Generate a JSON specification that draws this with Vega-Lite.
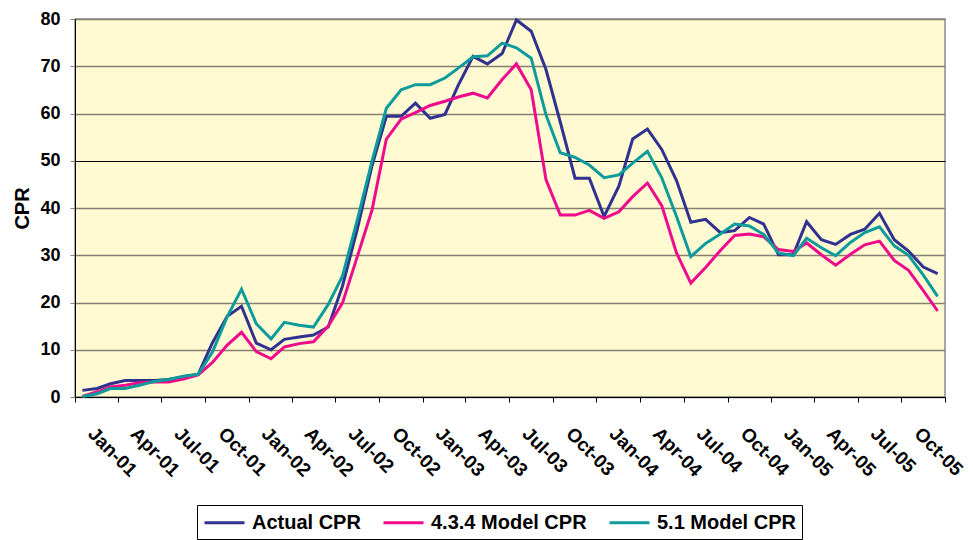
{
  "$schema": "https://vega.github.io/schema/vega-lite/v6.json",
  "width": 870,
  "height": 378,
  "autosize": {"type": "none"},
  "padding": {"left": 75, "top": 19, "right": 28, "bottom": 143},
  "background": "white",
  "config": {
    "font": "Liberation Sans",
    "view": {"fill": "#FFFAD2", "stroke": "#8C8C8C", "strokeWidth": 1.5}
  },
  "data": {
    "values": [
      {"month": "2001-01-01", "actual": 1.4, "v434": 0.1, "v51": 0.1},
      {"month": "2001-02-01", "actual": 1.8, "v434": 1.1, "v51": 0.7},
      {"month": "2001-03-01", "actual": 2.8, "v434": 2.1, "v51": 1.8},
      {"month": "2001-04-01", "actual": 3.5, "v434": 2.5, "v51": 1.8},
      {"month": "2001-05-01", "actual": 3.5, "v434": 3.0, "v51": 2.5},
      {"month": "2001-06-01", "actual": 3.5, "v434": 3.2, "v51": 3.3},
      {"month": "2001-07-01", "actual": 3.7, "v434": 3.2, "v51": 3.7},
      {"month": "2001-08-01", "actual": 4.3, "v434": 3.8, "v51": 4.4},
      {"month": "2001-09-01", "actual": 4.8, "v434": 4.7, "v51": 4.8},
      {"month": "2001-10-01", "actual": 11.5, "v434": 7.3, "v51": 9.5},
      {"month": "2001-11-01", "actual": 17.1, "v434": 11.0, "v51": 17.0},
      {"month": "2001-12-01", "actual": 19.2, "v434": 13.7, "v51": 22.8},
      {"month": "2002-01-01", "actual": 11.4, "v434": 9.6, "v51": 15.5},
      {"month": "2002-02-01", "actual": 10.0, "v434": 8.1, "v51": 12.3},
      {"month": "2002-03-01", "actual": 12.2, "v434": 10.6, "v51": 15.8},
      {"month": "2002-04-01", "actual": 12.7, "v434": 11.3, "v51": 15.2},
      {"month": "2002-05-01", "actual": 13.1, "v434": 11.7, "v51": 14.8},
      {"month": "2002-06-01", "actual": 14.8, "v434": 15.0, "v51": 19.6},
      {"month": "2002-07-01", "actual": 23.5, "v434": 19.9, "v51": 25.6},
      {"month": "2002-08-01", "actual": 35.5, "v434": 29.7, "v51": 37.5},
      {"month": "2002-09-01", "actual": 49.0, "v434": 39.6, "v51": 50.0},
      {"month": "2002-10-01", "actual": 59.4, "v434": 54.6, "v51": 61.1},
      {"month": "2002-11-01", "actual": 59.4, "v434": 58.8, "v51": 65.0},
      {"month": "2002-12-01", "actual": 62.2, "v434": 60.2, "v51": 66.1},
      {"month": "2003-01-01", "actual": 59.0, "v434": 61.7, "v51": 66.1},
      {"month": "2003-02-01", "actual": 59.8, "v434": 62.6, "v51": 67.5},
      {"month": "2003-03-01", "actual": 66.0, "v434": 63.5, "v51": 69.6},
      {"month": "2003-04-01", "actual": 72.1, "v434": 64.3, "v51": 72.0},
      {"month": "2003-05-01", "actual": 70.5, "v434": 63.3, "v51": 72.2},
      {"month": "2003-06-01", "actual": 72.7, "v434": 67.2, "v51": 74.9},
      {"month": "2003-07-01", "actual": 79.8, "v434": 70.5, "v51": 73.9},
      {"month": "2003-08-01", "actual": 77.4, "v434": 65.0, "v51": 71.7},
      {"month": "2003-09-01", "actual": 69.3, "v434": 46.0, "v51": 59.7},
      {"month": "2003-10-01", "actual": 58.2, "v434": 38.5, "v51": 51.7},
      {"month": "2003-11-01", "actual": 46.3, "v434": 38.5, "v51": 50.7},
      {"month": "2003-12-01", "actual": 46.3, "v434": 39.5, "v51": 49.1},
      {"month": "2004-01-01", "actual": 38.2, "v434": 37.8, "v51": 46.4},
      {"month": "2004-02-01", "actual": 44.6, "v434": 39.2, "v51": 47.0},
      {"month": "2004-03-01", "actual": 54.6, "v434": 42.4, "v51": 49.5},
      {"month": "2004-04-01", "actual": 56.7, "v434": 45.3, "v51": 52.0},
      {"month": "2004-05-01", "actual": 52.4, "v434": 40.5, "v51": 46.4},
      {"month": "2004-06-01", "actual": 45.8, "v434": 30.5, "v51": 38.2},
      {"month": "2004-07-01", "actual": 37.0, "v434": 24.1, "v51": 29.7},
      {"month": "2004-08-01", "actual": 37.6, "v434": 27.4, "v51": 32.5},
      {"month": "2004-09-01", "actual": 34.8, "v434": 31.0, "v51": 34.5},
      {"month": "2004-10-01", "actual": 35.2, "v434": 34.2, "v51": 36.6},
      {"month": "2004-11-01", "actual": 38.0, "v434": 34.5, "v51": 36.2},
      {"month": "2004-12-01", "actual": 36.6, "v434": 33.9, "v51": 34.4},
      {"month": "2005-01-01", "actual": 30.1, "v434": 31.2, "v51": 30.5},
      {"month": "2005-02-01", "actual": 30.1, "v434": 30.8, "v51": 29.9},
      {"month": "2005-03-01", "actual": 37.1, "v434": 32.6, "v51": 33.6},
      {"month": "2005-04-01", "actual": 33.3, "v434": 30.1, "v51": 31.6},
      {"month": "2005-05-01", "actual": 32.3, "v434": 27.9, "v51": 29.9},
      {"month": "2005-06-01", "actual": 34.4, "v434": 30.2, "v51": 32.7},
      {"month": "2005-07-01", "actual": 35.5, "v434": 32.2, "v51": 34.8},
      {"month": "2005-08-01", "actual": 38.9, "v434": 33.0, "v51": 36.0},
      {"month": "2005-09-01", "actual": 33.3, "v434": 28.9, "v51": 32.0},
      {"month": "2005-10-01", "actual": 30.9, "v434": 26.8, "v51": 30.0},
      {"month": "2005-11-01", "actual": 27.5, "v434": 22.5, "v51": 25.8},
      {"month": "2005-12-01", "actual": 26.1, "v434": 18.2, "v51": 21.3}
    ]
  },
  "transform": [{"fold": ["actual", "v434", "v51"], "as": ["series", "cpr"]}],
  "mark": {"type": "line", "strokeWidth": 3, "clip": false},
  "encoding": {
    "x": {
      "field": "month",
      "type": "temporal",
      "scale": {
        "type": "utc",
        "domain": [
          {"year": 2000, "month": 12, "date": 16, "hours": 12, "utc": true},
          {"year": 2005, "month": 12, "date": 16, "hours": 12, "utc": true}
        ]
      },
      "axis": {
        "title": null,
        "grid": false,
        "values": [
          {"year": 2000, "month": 12, "date": 16, "hours": 12, "utc": true},
          {"year": 2001, "month": 3, "date": 16, "utc": true},
          {"year": 2001, "month": 6, "date": 16, "utc": true},
          {"year": 2001, "month": 9, "date": 16, "utc": true},
          {"year": 2001, "month": 12, "date": 16, "utc": true},
          {"year": 2002, "month": 3, "date": 16, "utc": true},
          {"year": 2002, "month": 6, "date": 16, "utc": true},
          {"year": 2002, "month": 9, "date": 16, "utc": true},
          {"year": 2002, "month": 12, "date": 16, "utc": true},
          {"year": 2003, "month": 3, "date": 16, "utc": true},
          {"year": 2003, "month": 6, "date": 16, "utc": true},
          {"year": 2003, "month": 9, "date": 16, "utc": true},
          {"year": 2003, "month": 12, "date": 16, "utc": true},
          {"year": 2004, "month": 3, "date": 16, "utc": true},
          {"year": 2004, "month": 6, "date": 16, "utc": true},
          {"year": 2004, "month": 9, "date": 16, "utc": true},
          {"year": 2004, "month": 12, "date": 16, "utc": true},
          {"year": 2005, "month": 3, "date": 16, "utc": true},
          {"year": 2005, "month": 6, "date": 16, "utc": true},
          {"year": 2005, "month": 9, "date": 16, "utc": true},
          {"year": 2005, "month": 12, "date": 16, "hours": 12, "utc": true}
        ],
        "labelExpr": "utcyear(datum.value + 1728000000) > 2005 ? '' : utcFormat(datum.value + 1728000000, '%b-%y')",
        "labelAngle": 45,
        "labelAlign": "left",
        "labelBaseline": "top",
        "labelOffset": 22,
        "labelPadding": 22,
        "labelFontSize": 19,
        "labelFontWeight": "bold",
        "labelColor": "#000000",
        "labelOverlap": false,
        "labelBound": false,
        "labelFlush": false,
        "tickSize": 5,
        "tickColor": "#000000",
        "domainColor": "#000000",
        "domainWidth": 1
      }
    },
    "y": {
      "field": "cpr",
      "type": "quantitative",
      "scale": {"domain": [0, 80], "nice": false},
      "axis": {
        "values": [0, 10, 20, 30, 40, 50, 60, 70, 80],
        "title": "CPR",
        "titleFontSize": 20,
        "titleFontWeight": "bold",
        "titleColor": "#000000",
        "titleX": -53,
        "titleY": 189,
        "titleAngle": -90,
        "titleAlign": "center",
        "titleBaseline": "middle",
        "labelFontSize": 18,
        "labelFontWeight": "bold",
        "labelColor": "#000000",
        "labelPadding": 10,
        "tickSize": 5,
        "tickColor": "#858070",
        "domainColor": "#000000",
        "domainWidth": 1,
        "grid": true,
        "gridColor": {"condition": {"test": "datum.value === 50", "value": "#000000"}, "value": "#858070"},
        "gridWidth": {"condition": {"test": "datum.value === 50", "value": 1}, "value": 1.6},
        "gridOpacity": 1
      }
    },
    "color": {
      "field": "series",
      "type": "nominal",
      "scale": {
        "domain": ["actual", "v434", "v51"],
        "range": ["#31318F", "#EE0C8C", "#0E9B9B"]
      },
      "legend": {
        "title": null,
        "orient": "none",
        "legendX": 122,
        "legendY": 486,
        "direction": "horizontal",
        "symbolType": "M-1,0H3",
        "symbolSize": 400,
        "symbolStrokeWidth": 3,
        "labelFontSize": 20,
        "labelFontWeight": "bold",
        "labelColor": "#000000",
        "labelLimit": 0,
        "labelOffset": 26,
        "columnPadding": 16,
        "padding": 6,
        "strokeColor": "#000000",
        "fillColor": "#FFFFFF",
        "labelExpr": "datum.label == 'actual' ? 'Actual CPR' : datum.label == 'v434' ? '4.3.4 Model CPR' : '5.1 Model CPR'"
      }
    }
  }
}
